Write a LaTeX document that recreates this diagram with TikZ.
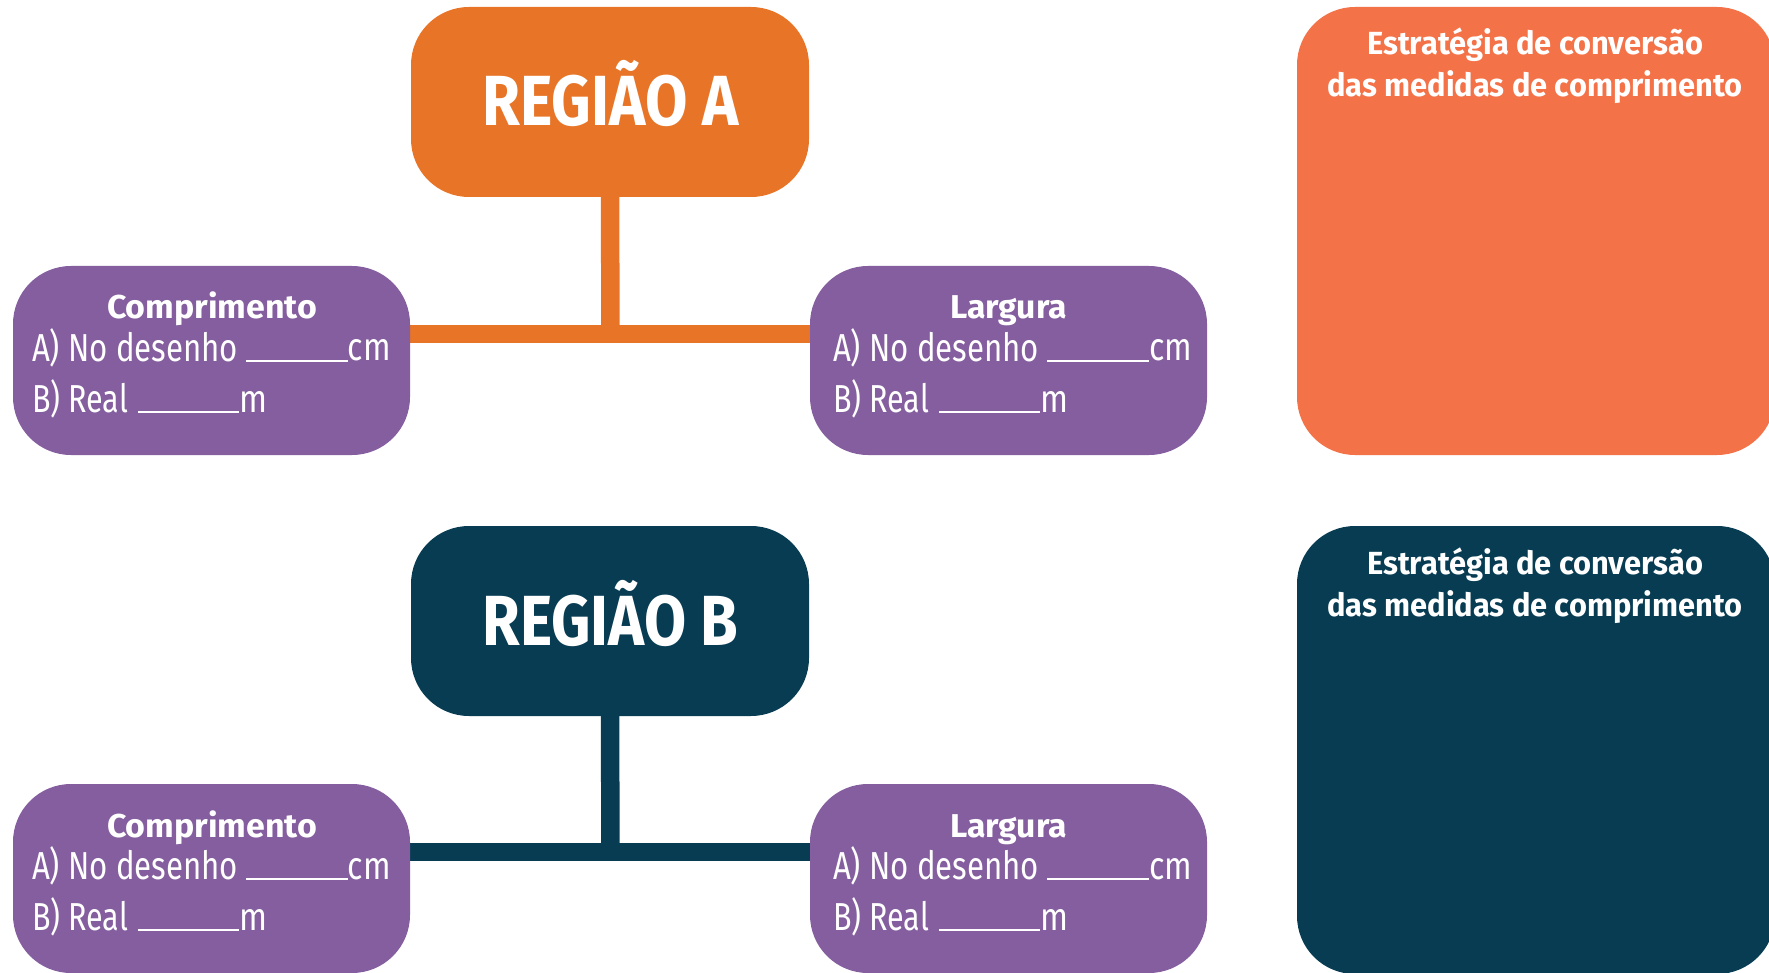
\documentclass[tikz,border=0pt]{standalone}
\usepackage{fontspec}
\usepackage{graphicx}
\setmainfont{Fira Sans}
\usetikzlibrary{backgrounds}
\definecolor{regA}{HTML}{E87527}
\definecolor{salmon}{HTML}{F37248}
\definecolor{navy}{HTML}{073C53}
\definecolor{lilac}{HTML}{845E9E}
\newcommand{\fitw}[2]{\resizebox{#1}{\height}{#2}}
\newcommand{\ul}[1]{\rule[-1pt]{#1}{2.2pt}}
\begin{document}
\begin{tikzpicture}[x=1pt,y=-1pt,
  box/.style={draw=none, rounded corners=58pt, inner sep=0pt, outer sep=0pt, anchor=north west},
  titlebox/.style={box, minimum width=398pt, minimum height=190pt},
  measbox/.style={box, fill=lilac, minimum width=397pt, minimum height=189pt},
  stratbox/.style={box, minimum width=478pt, minimum height=448pt},
  txt/.style={inner sep=0pt, outer sep=0pt, text=white, anchor=base},
  ltxt/.style={txt, anchor=base west, font=\fontsize{39}{39}\selectfont},
  titletxt/.style={txt, font=\bfseries\fontsize{71}{71}\selectfont},
  headtxt/.style={txt, font=\bfseries\fontsize{33}{33}\selectfont},
  strattxt/.style={txt, font=\bfseries\fontsize{32}{32}\selectfont},
  conn/.style={line width=18.5pt}]
\useasboundingbox (0,0) rectangle (1769,973);
\clip (0,0) rectangle (1769,973);
\foreach \rg/\cl/\sc/\yy/\yp in {A/regA/salmon/0/0, B/navy/navy/519/518}{
  % title box
  \node[titlebox, fill=\cl] (title\rg) at (411,7+\yy) {};
  \node[titletxt] (titletext\rg) at (610.5,126+\yy) {\fitw{256pt}{REGIÃO \rg}};
  % measure boxes
  \node[measbox] (comp\rg) at (13,266+\yp) {};
  \node[measbox] (larg\rg) at (810,266+\yp) {};
  \node[headtxt] (comph\rg) at (212,319+\yp) {\fitw{210pt}{Comprimento}};
  \node[headtxt] (largh\rg) at (1008.5,319+\yp) {\fitw{117pt}{Largura}};
  \node[ltxt] (compa\rg) at (32,361+\yp) {\fitw{206pt}{A) No desenho}\hspace{8pt}\ul{102pt}\fitw{43pt}{cm}};
  \node[ltxt] (compb\rg) at (32,412+\yp) {\fitw{96pt}{B) Real}\hspace{10pt}\ul{101pt}\fitw{28pt}{m}};
  \node[ltxt] (larga\rg) at (833,361+\yp) {\fitw{206pt}{A) No desenho}\hspace{8pt}\ul{102pt}\fitw{43pt}{cm}};
  \node[ltxt] (largb\rg) at (833,412+\yp) {\fitw{96pt}{B) Real}\hspace{10pt}\ul{101pt}\fitw{28pt}{m}};
  % strategy box
  \node[stratbox, fill=\sc] (strat\rg) at (1297,7+\yy) {};
  \node[strattxt] (strata\rg) at (1535,55+\yy) {\fitw{336pt}{Estratégia de conversão}};
  \node[strattxt] (stratb\rg) at (1535,97+\yy) {\fitw{415pt}{das medidas de comprimento}};
  % connectors
  \coordinate (j\rg) at (610.5,334+\yp);
  \begin{scope}[on background layer]
    \draw[conn, draw=\cl] (title\rg.south) -- (j\rg);
    \draw[conn, draw=\cl] ([xshift=-4pt]comp\rg.east |- j\rg) -- ([xshift=4pt]larg\rg.west |- j\rg);
  \end{scope}
}
\end{tikzpicture}
\end{document}
